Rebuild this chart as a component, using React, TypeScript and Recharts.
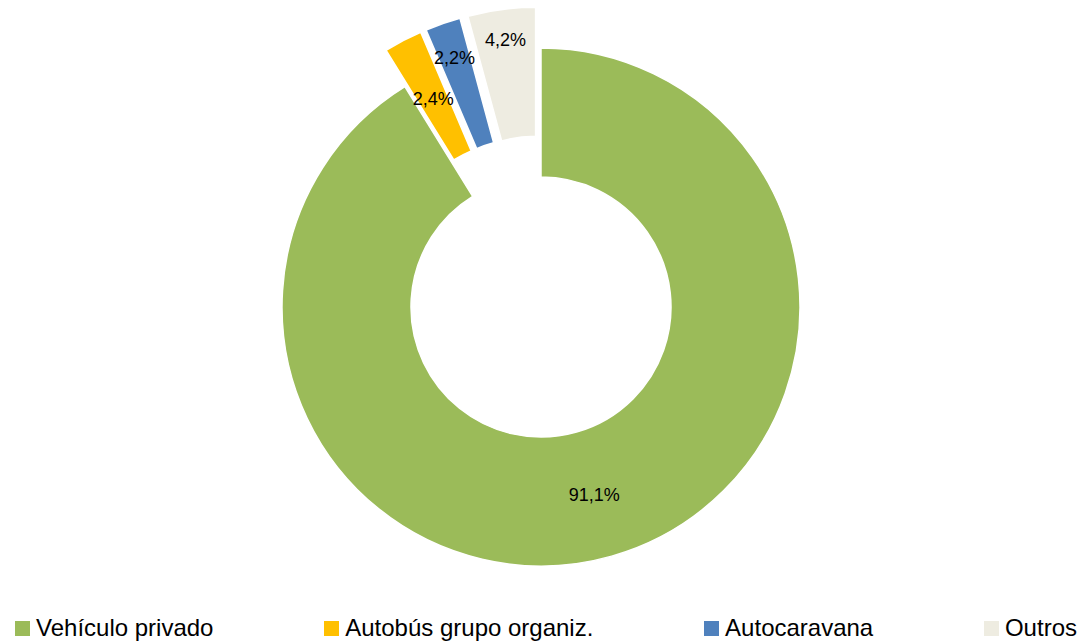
import { PieChart, Pie, Cell, Legend } from 'recharts';

const categories = ['Vehículo privado', 'Autobús grupo organiz.', 'Autocaravana', 'Outros'];
const shares = [91.1, 2.4, 2.2, 4.2];
const colors = ['#9BBB59', '#FFC000', '#4F81BD', '#EEECE1'];
const exploded = [false, true, true, true];

// label distance from the centre, per slice (Excel moved the small ones outwards)
const labelRadius = [195, 193, 223, 228];

const data = categories.map((name, i) => ({ name, value: shares[i] }));

const CX = 541;
const CY = 307;
const INNER = 130;
const OUTER = 259;
const EXPLODE = 41;
const RAD = Math.PI / 180;
const FONT = '"Liberation Sans", Arial, sans-serif';

const total = shares.reduce((a, b) => a + b, 0);
const midAngles = shares.map((v, i) => {
    const before = shares.slice(0, i).reduce((a, b) => a + b, 0);
    return 90 - (360 * (before + v / 2)) / total;
});

const fmt = (v: number) => `${v.toFixed(1).replace('.', ',')}%`;

function LegendContent() {
    return (
        <div
            style={{
                display: 'flex',
                justifyContent: 'space-between',
                padding: '0 5px 0 15px',
                height: 28,
                lineHeight: '28px',
                fontFamily: FONT,
                fontSize: 24,
                color: '#000',
            }}
        >
            {categories.map((c, i) => (
                <div key={c} style={{ display: 'flex', alignItems: 'center' }}>
                    <span style={{ width: 15, height: 15, background: colors[i], marginRight: 6, display: 'inline-block' }} />
                    <span>{c}</span>
                </div>
            ))}
        </div>
    );
}

export default function App() {
    return (
        <div style={{ position: 'absolute', left: 0, top: 0, width: 1082, height: 642, background: '#fff' }}>
            <PieChart width={1082} height={642} margin={{ top: 0, right: 0, bottom: 0, left: 0 }}>
                {data.map((_, i) => {
                    const off = exploded[i] ? EXPLODE : 0;
                    const cx = CX + Math.cos(midAngles[i] * RAD) * off;
                    const cy = CY - Math.sin(midAngles[i] * RAD) * off;
                    return (
                        <Pie
                            key={`pie-${i}`}
                            data={data}
                            dataKey="value"
                            nameKey="name"
                            cx={cx}
                            cy={cy}
                            innerRadius={INNER}
                            outerRadius={OUTER}
                            startAngle={90}
                            endAngle={-270}
                            isAnimationActive={false}
                            labelLine={false}
                            label={(p: any) =>
                                p.index === i ? (
                                    <text
                                        x={p.cx + labelRadius[i] * Math.cos(-p.midAngle * RAD)}
                                        y={p.cy + labelRadius[i] * Math.sin(-p.midAngle * RAD)}
                                        textAnchor="middle"
                                        dominantBaseline="central"
                                        fontFamily={FONT}
                                        fontSize={18}
                                        fill="#000"
                                    >
                                        {fmt(shares[i])}
                                    </text>
                                ) : null
                            }
                        >
                            {data.map((d, j) => (
                                <Cell
                                    key={`cell-${i}-${j}`}
                                    fill={j === i ? colors[j] : 'transparent'}
                                    stroke={j === i ? '#fff' : 'none'}
                                    strokeWidth={1.5}
                                />
                            ))}
                        </Pie>
                    );
                })}
                <Legend verticalAlign="bottom" height={28} content={<LegendContent />} wrapperStyle={{ left: 0, width: 1082 }} />
            </PieChart>
        </div>
    );
}
